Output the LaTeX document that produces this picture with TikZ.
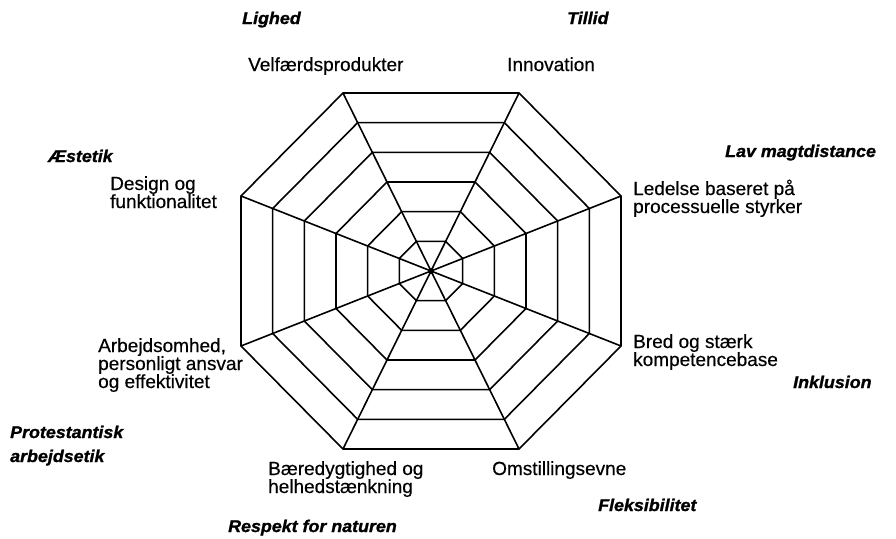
\documentclass[tikz,border=0pt]{standalone}
\usepackage{fontspec}
\setmainfont[FakeBold=0.4]{Liberation Sans}
\newfontfamily\lblfont[FakeStretch=1.05,FakeBold=1.2]{Liberation Sans}
\usetikzlibrary{calc}
\tikzset{
  web/.style={line width=1.6pt, line join=miter},
  lab/.style={anchor=base west, inner sep=0pt, align=left, font=\fontsize{19}{18}\selectfont},
  val/.style={anchor=base west, inner sep=0pt, align=left, font=\lblfont\bfseries\itshape\fontsize{17}{24}\selectfont}
}
\begin{document}
\begin{tikzpicture}[x=1pt,y=-1pt]
\useasboundingbox (0,0) rectangle (896,538);
\coordinate (c) at (431,271);
\coordinate (v1) at ($(c)+(-88,-178)$);
\coordinate (v2) at ($(c)+(88,-178)$);
\coordinate (v3) at ($(c)+(190,-75)$);
\coordinate (v4) at ($(c)+(190,75)$);
\coordinate (v5) at ($(c)+(88,178)$);
\coordinate (v6) at ($(c)+(-88,178)$);
\coordinate (v7) at ($(c)+(-190,75)$);
\coordinate (v8) at ($(c)+(-190,-75)$);
\foreach \i in {1,...,8} { \draw[web] (c) -- (v\i); }
\foreach \k in {1,...,6} {
  \draw[web] ($(c)!\k/6!(v1)$) \foreach \i in {2,...,8} { -- ($(c)!\k/6!(v\i)$) } -- cycle;
}
\fill (c) circle (3);
% value labels
\node[val] (lighed) at (242,24) {Lighed};
\node[val] (tillid) at (567,24) {Tillid};
\node[val] (aestetik) at (48,162) {Æstetik};
\node[val] (lav) at (725,157) {Lav magtdistance};
\node[val] (inkl) at (793,388) {Inklusion};
\node[val] (prot) at (10,462) {Protestantisk\\arbejdsetik};
\node[val] (fleks) at (598,511) {Fleksibilitet};
\node[val] (resp) at (228,532) {Respekt for naturen};
% axis labels
\node[lab] (velf) at (248,71) {Velfærdsprodukter};
\node[lab] (innov) at (507,71) {Innovation};
\node[lab] (design) at (110,208) {Design og\\funktionalitet};
\node[lab] (ledelse) at (633,213) {Ledelse baseret på\\processuelle styrker};
\node[lab] (arb) at (98,388) {Arbejdsomhed,\\personligt ansvar\\og effektivitet};
\node[lab] (bred) at (633,366) {Bred og stærk\\kompetencebase};
\node[lab] (baer) at (268,493) {Bæredygtighed og\\helhedstænkning};
\node[lab] (omst) at (492,475) {Omstillingsevne};
\end{tikzpicture}
\end{document}
